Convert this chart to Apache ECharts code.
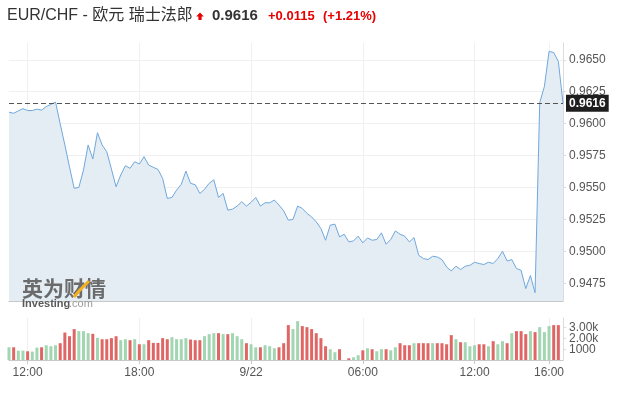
<!DOCTYPE html>
<html><head><meta charset="utf-8">
<script src="https://cdn.jsdelivr.net/npm/echarts@6/dist/echarts.min.js"></script>
<style>html,body{margin:0;padding:0;background:#fff}#c{width:626px;height:398px}</style>
</head><body><div id="c"></div>
<script>
// EUR/CHF price, 15-minute points from 9/21 11:00 to 9/22 16:45
const priceValues = [
0.96090,0.96082,0.96100,0.96118,0.96103,0.96103,0.96114,0.96106,0.96134,0.96151,
0.96169,0.95998,0.95834,0.95661,0.95495,0.95502,0.95638,0.95834,0.95724,0.95930,
0.95834,0.95781,0.95646,0.95507,0.95599,0.95672,0.95651,0.95703,0.95685,0.95742,
0.95677,0.95659,0.95643,0.95573,0.95416,0.95424,0.95481,0.95526,0.95630,0.95534,
0.95523,0.95455,0.95487,0.95534,0.95562,0.95424,0.95455,0.95324,0.95332,0.95356,
0.95390,0.95356,0.95385,0.95424,0.95356,0.95382,0.95382,0.95403,0.95364,0.95319,
0.95246,0.95252,0.95356,0.95338,0.95299,0.95272,0.95233,0.95181,0.95089,0.95207,
0.95215,0.95115,0.95136,0.95076,0.95084,0.95121,0.95068,0.95107,0.95089,0.95095,
0.95147,0.95058,0.95095,0.95162,0.95136,0.95121,0.95076,0.95110,0.94972,0.94946,
0.94938,0.94964,0.94958,0.94938,0.94880,0.94849,0.94886,0.94860,0.94886,0.94893,
0.94917,0.94907,0.94899,0.94917,0.94907,0.94946,0.95003,0.94927,0.94938,0.94868,
0.94854,0.94711,0.94813,0.94679,0.96165,0.96291,0.96565,0.96557,0.96487,0.96160];

const volumeValues = [
1180,1180,870,870,810,780,1150,1180,1370,1280,
1370,1560,2550,2210,2870,2680,2680,2490,2430,2060,
1930,1930,2030,2210,1840,1930,1840,1930,1460,1460,
1840,1590,1590,2030,1930,2120,1930,1930,2030,1900,
1840,1840,2210,2400,2490,2490,2400,2400,2490,2210,
1930,1560,1460,1180,1180,1370,1280,1090,1180,1560,
3240,2870,3610,3150,3050,2870,2490,2030,1280,1000,
720,1000,0,160,250,440,900,1090,1000,810,
1000,1000,900,1180,1560,1370,1370,1560,1560,1560,
1560,1560,1560,1560,1460,2310,1930,1650,1650,1280,
1370,1460,1460,1280,1750,1460,1750,1560,2490,2680,
2680,2400,2680,2590,3050,2590,3150,3240,3240,'-'];

// 1 = green (up), 0 = red (down)
const volumeUp = [
1,0,1,1,0,1,1,0,1,1,
1,0,0,0,0,1,1,1,0,1,
0,0,0,0,1,1,0,1,0,1,
0,0,0,0,0,1,1,1,1,0,
0,0,1,1,1,0,1,0,1,1,
1,0,1,1,0,1,1,1,0,0,
0,1,1,0,0,0,0,0,0,1,
1,0,1,0,1,1,0,1,0,1,
1,0,1,1,0,0,0,1,0,0,
0,1,0,0,0,0,1,0,1,1,
1,0,0,1,0,1,1,0,1,0,
0,0,1,0,1,1,1,0,0,0];

const tickCategories = ['9/21 12:00','9/21 18:00','9/22 00:00','9/22 06:00','9/22 12:00','9/22 16:00'];
const tickLabels = ['12:00','18:00','9/22','06:00','12:00','16:00'];
const priceTicks = [0.9475,0.9500,0.9525,0.9550,0.9575,0.9600,0.9625,0.9650];
const volumeTicks = [1000,2000,3000];
const lastPrice = 0.9616;

const times = [];
for (let k = 0; k < priceValues.length; k++) {
  const total = 11 * 60 + 15 * k;
  const day = 21 + Math.floor(total / 1440);
  const rem = total % 1440;
  const hh = String(Math.floor(rem / 60)).padStart(2, '0');
  const mm = String(rem % 60).padStart(2, '0');
  times.push('9/' + day + ' ' + hh + ':' + mm);
}
const isTick = (i) => tickCategories.indexOf(times[i]) >= 0;
const FONT = '"Liberation Sans", Arial, sans-serif';
const volFmt = (v) => v >= 2000 ? (v / 1000).toFixed(2) + 'k' : String(v);
const VOL_MAX = 3900;

const chart = echarts.init(document.getElementById('c'), null, {renderer: 'canvas'});
chart.setOption({
  animation: false,
  grid: [
    {left: 9, right: 63, top: 43, bottom: 97},
    {left: 9, right: 63, top: 318, bottom: 38},
    {left: 9, right: 63, top: 318, bottom: 38}
  ],
  xAxis: [
    {type: 'category', gridIndex: 0, data: times, boundaryGap: false,
     axisLine: {lineStyle: {color: '#c8c8c8'}}, axisTick: {show: false}, axisLabel: {show: false},
     splitLine: {show: true, interval: (i) => isTick(i), lineStyle: {color: '#f0f0f0'}}},
    {type: 'category', gridIndex: 1, data: times, boundaryGap: false,
     axisLine: {lineStyle: {color: '#c8c8c8'}},
     axisTick: {show: true, interval: (i) => isTick(i), length: 4, lineStyle: {color: '#c8c8c8'}},
     axisLabel: {interval: (i) => isTick(i), formatter: (v) => tickLabels[tickCategories.indexOf(v)],
                 color: '#555', fontSize: 12, margin: 7, fontFamily: FONT},
     splitLine: {show: true, interval: (i) => isTick(i), lineStyle: {color: '#f0f0f0'}}},
    {type: 'category', gridIndex: 2, data: times, boundaryGap: false, show: false}
  ],
  yAxis: [
    {type: 'value', gridIndex: 0, position: 'right', min: 0.94614, max: 0.96631,
     axisLine: {show: true, lineStyle: {color: '#dcdcdc'}},
     axisTick: {show: true, length: 3, customValues: priceTicks, lineStyle: {color: '#dcdcdc'}},
     axisLabel: {customValues: priceTicks, formatter: (v) => v.toFixed(4), color: '#555', fontSize: 12, margin: 6,
                 fontFamily: FONT, hideOverlap: false},
     splitLine: {show: true, lineStyle: {color: '#f0f0f0'}}},
    {type: 'value', gridIndex: 1, position: 'right', min: 0, max: VOL_MAX,
     axisLine: {show: true, lineStyle: {color: '#dcdcdc'}},
     axisTick: {show: true, length: 3, customValues: volumeTicks, lineStyle: {color: '#dcdcdc'}},
     axisLabel: {customValues: [volumeTicks[1]], formatter: volFmt,
                 color: '#555', fontSize: 12, margin: 6, fontFamily: FONT},
     splitLine: {show: false}},
    {type: 'value', gridIndex: 2, position: 'right', min: 0, max: VOL_MAX,
     axisLine: {show: false}, axisTick: {show: false},
     axisLabel: {customValues: [volumeTicks[0], volumeTicks[2]], formatter: volFmt,
                 color: '#555', fontSize: 12, margin: 6, fontFamily: FONT},
     splitLine: {show: false}}
  ],
  series: [
    {type: 'line', xAxisIndex: 0, yAxisIndex: 0, data: priceValues, symbol: 'none',
     lineStyle: {color: '#6fa8dc', width: 1}, areaStyle: {color: '#e4ecf4', opacity: 1, origin: 'start'},
     markLine: {silent: true, symbol: ['none', 'none'], animation: false, precision: 4,
       lineStyle: {type: [5, 3], color: '#555', width: 1},
       label: {position: 'end', formatter: lastPrice.toFixed(4), backgroundColor: '#1e1e1e', color: '#fff',
               fontWeight: 'bold', fontSize: 12, padding: [3, 3, 2, 3], distance: 3, fontFamily: FONT},
       data: [{yAxis: lastPrice}]}},
    {type: 'bar', xAxisIndex: 1, yAxisIndex: 1, barWidth: 3,
     data: volumeValues.map((v, i) => ({value: v, itemStyle: {color: volumeUp[i] ? '#a2d5b1' : '#e06666'}}))}
  ],
  graphic: [
    {type: 'text', x: 7, y: 16, style: {text: 'EUR/CHF - 欧元 瑞士法郎', font: '16px "Liberation Sans", "Noto Sans CJK SC"', fill: '#333', verticalAlign: 'middle'}},
    {type: 'polygon', shape: {points: [[200, 12.5], [203.8, 16.5], [201.6, 16.5], [201.6, 20], [198.4, 20], [198.4, 16.5], [196.2, 16.5]]}, style: {fill: '#e60000'}},
    {type: 'text', x: 212, y: 16, style: {text: '0.9616', font: 'bold 15px "Liberation Sans"', fill: '#333', verticalAlign: 'middle'}},
    {type: 'text', x: 268, y: 16.5, style: {text: '+0.0115', font: 'bold 13px "Liberation Sans"', fill: '#e60000', verticalAlign: 'middle'}},
    {type: 'text', x: 323, y: 16.5, style: {text: '(+1.21%)', font: 'bold 13px "Liberation Sans"', fill: '#e60000', verticalAlign: 'middle'}},
    {type: 'text', x: 22, y: 288, z: 100, style: {text: '英为财情', font: 'bold 21px "Noto Sans CJK SC"', fill: '#6b6b6b', verticalAlign: 'middle'}},
    {type: 'polyline', z: 101, shape: {points: [[74, 297], [79, 291], [89, 281]]}, style: {stroke: '#f2b01e', lineWidth: 3, fill: null}},
    {type: 'text', x: 22, y: 304, z: 100, style: {text: 'Investing', font: 'bold 11px "Liberation Sans"', fill: '#5a5a5a', verticalAlign: 'middle'}},
    {type: 'text', x: 69, y: 304, z: 100, style: {text: '.com', font: '11px "Liberation Sans"', fill: '#9a9a9a', verticalAlign: 'middle'}}
  ]
});
</script></body></html>
